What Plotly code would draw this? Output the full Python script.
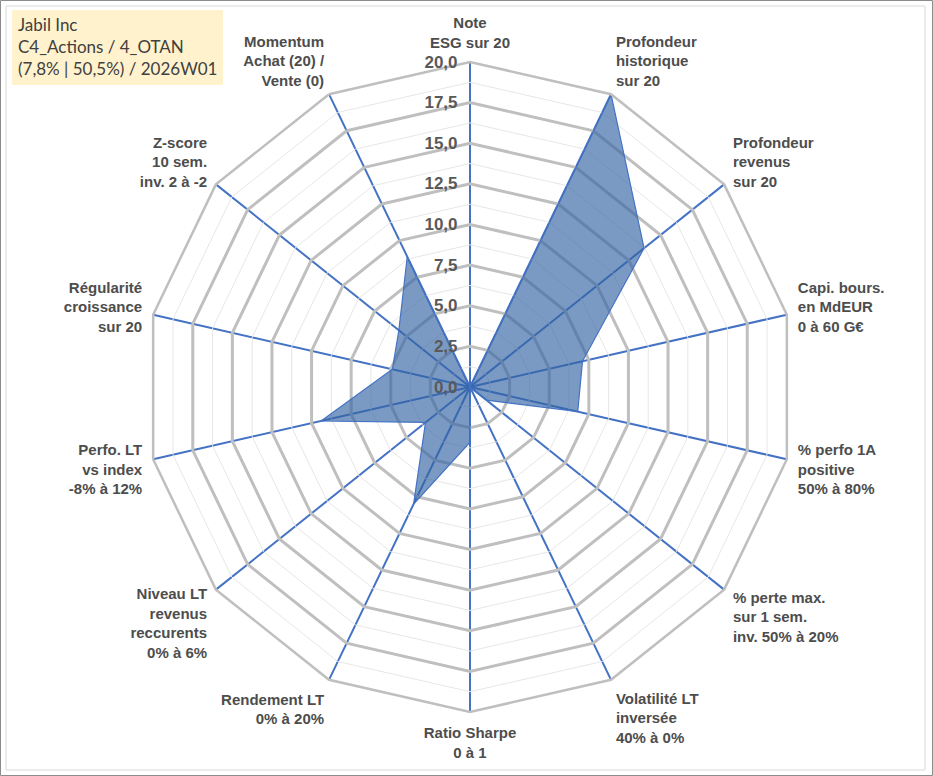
import plotly.graph_objects as go

# axes of the radar, clockwise from the top
categories = [
    "Note<br>ESG sur 20",
    "Profondeur<br>historique<br>sur 20",
    "Profondeur<br>revenus<br>sur 20",
    "Capi. bours.<br>en MdEUR<br>0 à 60 G€",
    "% perfo 1A<br>positive<br>50% à 80%",
    "% perte max.<br>sur 1 sem.<br>inv. 50% à 20%",
    "Volatilité LT<br>inversée<br>40% à 0%",
    "Ratio Sharpe<br>0 à 1",
    "Rendement LT<br>0% à 20%",
    "Niveau LT<br>revenus<br>reccurents<br>0% à 6%",
    "Perfo. LT<br>vs index<br>-8% à 12%",
    "Régularité<br>croissance<br>sur 20",
    "Z-score<br>10 sem.<br>inv. 2 à -2",
    "Momentum<br>Achat (20) /<br>Vente (0)",
]
scores = [0, 20, 13.7, 7.1, 6.8, 1.3, 0, 3.4, 8.0, 3.5, 9.4, 4.9, 5.6, 8.9]

major_ticks = [0, 2.5, 5, 7.5, 10, 12.5, 15, 17.5, 20]
minor_rings = [1.25, 3.75, 6.25, 8.75, 11.25, 13.75, 16.25, 18.75]

title_lines = ["Jabil Inc", "C4_Actions / 4_OTAN", "(7,8% | 50,5%) / 2026W01"]

W, H = 933, 776

fig = go.Figure()

# thin secondary rings (Excel minor gridlines)
closed = categories + categories[:1]
for r in minor_rings:
    fig.add_trace(go.Scatterpolar(
        r=[r] * len(closed), theta=closed, mode="lines",
        line=dict(color="#E6E6E6", width=1),
        hoverinfo="skip", showlegend=False,
    ))

fig.add_trace(go.Scatterpolar(
    r=scores + scores[:1], theta=closed, mode="lines",
    fill="toself", fillcolor="rgba(50,100,165,0.65)",
    line=dict(color="#4472C4", width=1.2),
    showlegend=False,
))

cx, cy, rad = 470, 387, 325
fig.update_layout(
    width=W, height=H,
    margin=dict(l=0, r=0, t=0, b=0),
    paper_bgcolor="white",
    separators=", ",
    polar=dict(
        domain=dict(x=[(cx - rad) / W, (cx + rad) / W],
                    y=[(H - cy - rad) / H, (H - cy + rad) / H]),
        bgcolor="white",
        gridshape="linear",
        radialaxis=dict(
            range=[0, 20], tickvals=major_ticks, tickformat=".1f",
            ticksuffix="\u00a0\u00a0\u00a0",
            angle=90, side="counterclockwise", tickangle=90,
            showline=False, gridcolor="#BFBFBF", gridwidth=2.5,
            ticks="outside", ticklen=6, tickcolor="rgba(0,0,0,0)",
            tickfont=dict(family="Liberation Sans", size=17, color="#595959",
                          weight="bold"),
        ),
        angularaxis=dict(
            direction="clockwise", rotation=90,
            gridcolor="#4472C4", gridwidth=1.5,
            showline=True, linecolor="#BFBFBF", linewidth=2.5,
            ticks="outside", ticklen=7, tickcolor="rgba(0,0,0,0)",
            tickfont=dict(family="Liberation Sans", size=15, color="#4D4D4D",
                          weight="bold"),
        ),
    ),
    shapes=[
        dict(type="rect", xref="paper", yref="paper", x0=0.5 / W, x1=1 - 0.5 / W,
             y0=0.5 / H, y1=1 - 0.5 / H, line=dict(color="#8C8C8C", width=1)),
        dict(type="rect", xref="paper", yref="paper", x0=6 / W, x1=925 / W,
             y0=6 / H, y1=1 - 6 / H, line=dict(color="#D9D9D9", width=1)),
        dict(type="rect", xref="paper", yref="paper", x0=12 / W, x1=223 / W,
             y0=1 - 85 / H, y1=1 - 10 / H, fillcolor="#FFF2CC",
             line=dict(width=0), layer="below"),
    ],
    annotations=[dict(
        xref="paper", yref="paper", x=16 / W, y=1 - 12 / H,
        xanchor="left", yanchor="top", align="left", showarrow=False,
        text="<br>".join(title_lines),
        font=dict(family="Lato", size=17, color="#404040"),
    )],
)

fig.write_html("out.html", config={"displayModeBar": False},
               post_script="document.body.style.margin='0';")
